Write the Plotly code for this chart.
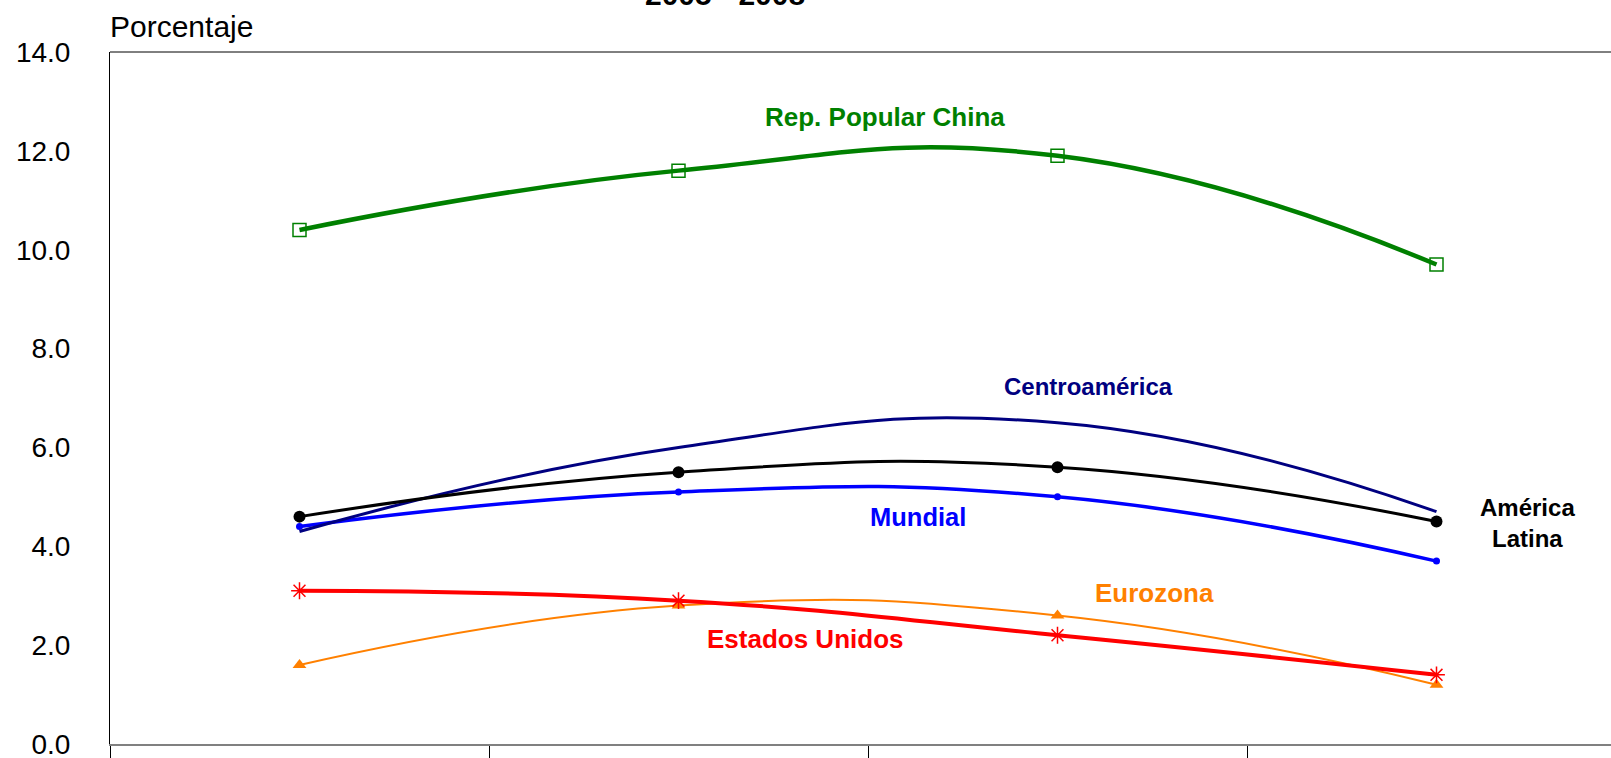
import plotly.graph_objects as go

years = ["2005", "2006", "2007", "2008"]
china = [10.4, 11.6, 11.9, 9.7]
centroamerica = [4.3, 6.0, 6.5, 4.7]
america_latina = [4.6, 5.5, 5.6, 4.5]
mundial = [4.4, 5.1, 5.0, 3.7]
eurozona = [1.6, 2.8, 2.6, 1.2]
estados_unidos = [3.1, 2.9, 2.2, 1.4]

W, H = 1611, 758
L, T = 110, 52
PLOT_BOTTOM = 744
CAT_W = 379.0
SMOOTH = 1.3

fig = go.Figure()

def add(y, color, width, symbol=None, msize=0, mline=1.5, name=""):
    mode = "lines+markers" if symbol else "lines"
    marker = dict(symbol=symbol, size=msize, color=color, line=dict(width=mline, color=color)) if symbol else None
    fig.add_trace(go.Scatter(x=years, y=y, mode=mode, name=name,
                             line=dict(color=color, width=width, shape="spline", smoothing=SMOOTH),
                             marker=marker, showlegend=False, cliponaxis=False))

add(eurozona, "#FF8000", 2, "triangle-up", 12, 0, "Eurozona")
add(mundial, "#0000FF", 3.5, "circle", 7, 0, "Mundial")
add(centroamerica, "#000080", 3, None, 0, 0, "Centroamérica")
add(america_latina, "#000000", 3, "circle", 12, 0, "América Latina")
add(estados_unidos, "#FF0000", 4, "asterisk-open", 14, 1.5, "Estados Unidos")
add(china, "#008000", 4.5, "square-open", 13, 1.5, "Rep. Popular China")

x_max = -0.5 + (W - L) / CAT_W

def px2x(px):
    return (px - L) / CAT_W - 0.5

def py2y(py):
    return (PLOT_BOTTOM - py) / ((PLOT_BOTTOM - T) / 14.0)

lab_font = "Arial, Liberation Sans, sans-serif"
labels = [
    ("Rep. Popular China", 885, 117, "#008000", 26),
    ("Centroamérica", 1088, 386, "#000080", 24),
    ("Mundial", 918, 517, "#0000FF", 25.5),
    ("América<br>Latina", 1527, 523, "#000000", 24),
    ("Eurozona", 1154, 593, "#FF8000", 26),
    ("Estados Unidos", 805, 639, "#FF0000", 26),
]
for text, px, py, col, fs in labels:
    fig.add_annotation(x=px2x(px), y=py2y(py), xref="x", yref="y", text=text,
                       showarrow=False, xanchor="center", yanchor="middle",
                       font=dict(family=lab_font, size=fs, color=col, weight="bold"))

plot_h = PLOT_BOTTOM - T
fig.add_annotation(x=0, y=1 + (T - 27) / plot_h, xref="paper", yref="paper",
                   text="Porcentaje", showarrow=False, xanchor="left", yanchor="middle",
                   xshift=-2,
                   font=dict(family=lab_font, size=30, color="#000000"))
fig.add_annotation(x=(725 - L) / (W - L), y=1 + (T - 13) / plot_h, xref="paper", yref="paper",
                   text="2005 - 2008", showarrow=False, xanchor="center", yanchor="bottom",
                   font=dict(family=lab_font, size=30, color="#000000", weight="bold"))

fig.add_shape(type="line", xref="paper", yref="paper", x0=0, x1=1, y0=1, y1=1,
              line=dict(color="#000000", width=1))

fig.update_layout(
    width=W, height=H, autosize=False,
    margin=dict(l=L, r=0, t=T, b=H - PLOT_BOTTOM, pad=0),
    paper_bgcolor="white", plot_bgcolor="white",
    xaxis=dict(type="category", range=[-0.5, x_max], tickson="boundaries",
               ticks="outside", ticklen=24, tickcolor="#000000", tickwidth=1,
               showline=True, linecolor="#808080", linewidth=2,
               showgrid=False, zeroline=False, automargin=False,
               showticklabels=False),
    yaxis=dict(range=[0, 14], dtick=2, tickformat=".1f", showgrid=False, zeroline=False,
               showline=True, linecolor="#000000", linewidth=1, ticks="",
               ticklabelstandoff=33, automargin=False, ticklabeloverflow="allow",
               tickfont=dict(family=lab_font, size=28, color="#000000")),
)

fig.write_html("out.html")
